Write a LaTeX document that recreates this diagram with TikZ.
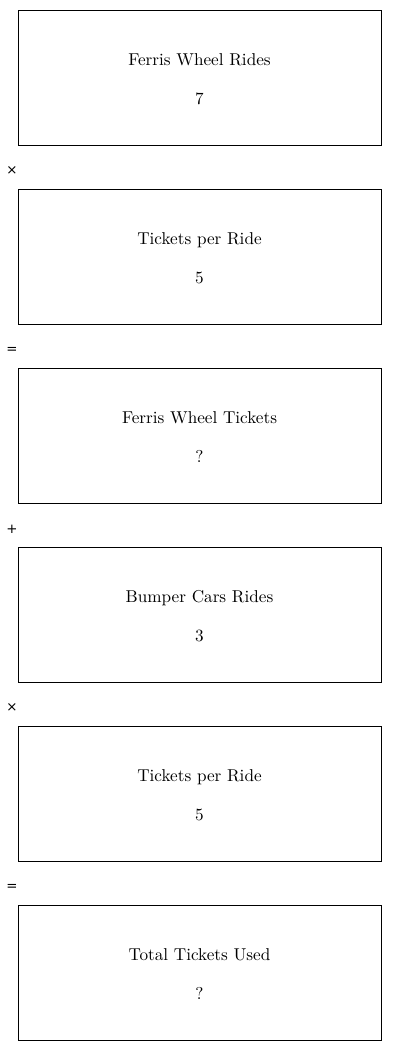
\documentclass[tikz,border=0pt]{standalone}
\usepackage{tikz}
\usepackage{fontspec}
\newfontfamily\opfont{DejaVu Sans}
\usetikzlibrary{calc}

\tikzset{
    stepbox/.style={draw, line width=0.6pt, minimum width=217.8pt, minimum height=81pt, inner sep=0pt},
    boxtext/.style={anchor=base, inner sep=0pt, font=\fontsize{10.3}{12}\selectfont},
    optext/.style={inner sep=0pt, font=\opfont\fontsize{8}{10}\selectfont}
}

\begin{document}
\begin{tikzpicture}[x=0.6pt,y=-0.6pt]
    \useasboundingbox (0,0) rectangle (400,1051);
    \foreach \i/\t/\v in {0/Ferris Wheel Rides/7, 1/Tickets per Ride/5, 2/Ferris Wheel Tickets/?, 3/Bumper Cars Rides/3, 4/Tickets per Ride/5, 5/Total Tickets Used/?} {
        \node[stepbox] (box\i) at (199.5,{77.5+179*\i}) {};
        \node[boxtext] (title\i) at (199.5,{65.5+179*\i}) {\t};
        \node[boxtext] (value\i) at (199.5,{104.5+179*\i}) {\v};
    }
    \foreach \i/\o in {0/×, 1/=, 2/+, 3/×, 4/=} {
        \node[optext] (op\i) at (12,{171+179*\i}) {\o};
    }
\end{tikzpicture}
\end{document}
